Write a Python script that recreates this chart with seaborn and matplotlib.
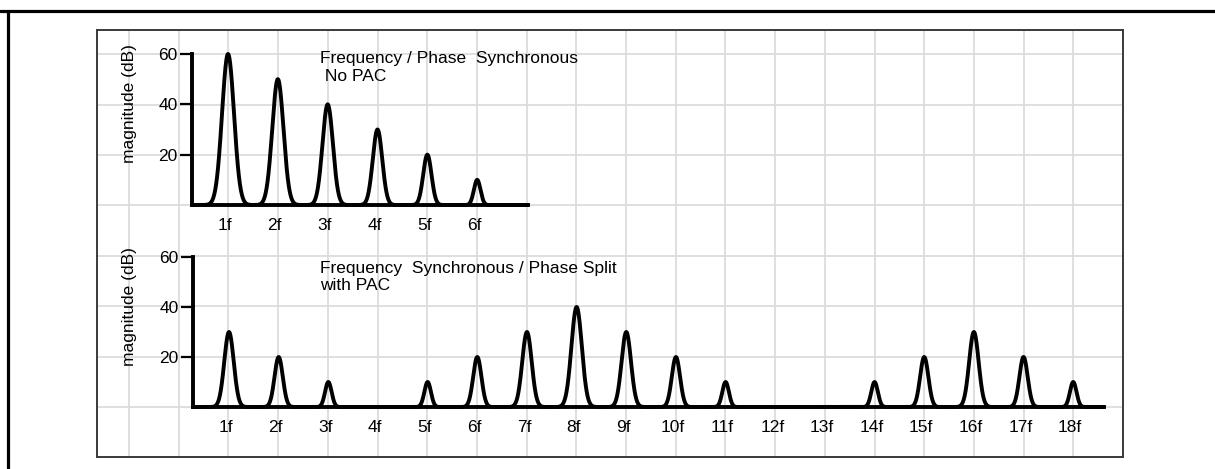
import numpy as np
import pandas as pd
import matplotlib
matplotlib.use('Agg')
import matplotlib.pyplot as plt
import matplotlib.transforms as mtransforms
from matplotlib.lines import Line2D
import seaborn as sns

# Harmonic peak magnitudes (dB)
top_harmonics = [1, 2, 3, 4, 5, 6]
top_db = [60, 50, 40, 30, 20, 10]
top_labels = ['1f', '2f', '3f', '4f', '5f', '6f']

bottom_harmonics = list(range(1, 19))
bottom_db = [30, 20, 10, 0, 10, 20, 30, 40, 30, 20, 10, 0, 0, 10, 20, 30, 20, 10]
bottom_labels = [f'{h}f' for h in bottom_harmonics]

y_ticks = [20, 40, 60]
top_title = 'Frequency / Phase  Synchronous\n No PAC'
bottom_title = 'Frequency  Synchronous / Phase Split\nwith PAC'

sns.set_theme(style='white')
plt.rcParams['font.family'] = ['Liberation Sans', 'DejaVu Sans']
FS = 12.5

W, H = 1215, 469
fig = plt.figure(figsize=(W / 100, H / 100), dpi=100)


def rect(left, top, right, bottom):
    # pixel box -> figure fraction
    return [left / W, (H - bottom) / H, (right - left) / W, (bottom - top) / H]


# outer frame (only top and left edges are visible)
fig.add_artist(Line2D([0, 1], [1 - 11 / H] * 2, transform=fig.transFigure, color='black', lw=2.3))
fig.add_artist(Line2D([8 / W] * 2, [0, 1 - 11 / H], transform=fig.transFigure, color='black', lw=2.3))

# background grid panel
bg = fig.add_axes(rect(97, 30, 1123, 457), zorder=0)
bg.set_xlim(-1.646, 19.0)
bg.set_ylim(-19.8, 149.6)
bg.set_xticks(np.arange(-1, 19))
bg.set_yticks(np.arange(0, 141, 20))
bg.grid(True, color='#dcdcdc', lw=1.3)
bg.tick_params(length=0, labelleft=False, labelbottom=False)
for s in bg.spines.values():
    s.set_color('#3a3a3a')
    s.set_linewidth(1.4)


def spectrum(harmonics, mags, xlim):
    x = np.linspace(xlim[0], xlim[1], 4000)
    y = np.zeros_like(x)
    for h, m in zip(harmonics, mags):
        if m <= 0:
            continue
        sig = 0.066 * (m / 10) ** (1 / 3)
        y += m * np.exp(-0.5 * ((x - h) / sig) ** 2)
    return pd.DataFrame({'x': x, 'y': y})


def panel(box, xlim, harmonics, mags, labels, title, title_xy, ylabel_y):
    ax = fig.add_axes(rect(*box), zorder=2)
    ax.patch.set_alpha(0)
    df = spectrum(harmonics, mags, xlim)
    sns.lineplot(data=df, x='x', y='y', ax=ax, color='black', lw=2.8, clip_on=False)
    ax.set_xlim(*xlim)
    ax.set_ylim(0, 60)
    ax.set_xticks(harmonics, labels)
    ax.set_yticks(y_ticks)
    ax.tick_params(axis='x', length=0, pad=9.5, labelsize=FS, colors='black')
    ax.tick_params(axis='y', direction='out', length=8.5, width=1.6, pad=2,
                   labelsize=FS, colors='black', left=True)
    shift = mtransforms.ScaledTranslation(-3 / 100, 0, fig.dpi_scale_trans)
    for lab in ax.get_xticklabels():
        lab.set_transform(lab.get_transform() + shift)
    sns.despine(ax=ax)
    for s in ('left', 'bottom'):
        ax.spines[s].set_linewidth(2.8)
        ax.spines[s].set_color('black')
        ax.spines[s].set_capstyle('projecting')
    ax.set_xlabel('')
    ax.set_ylabel('magnitude (dB)', fontsize=FS, color='black')
    axw = box[2] - box[0]
    ax.yaxis.set_label_coords((137 - box[0]) / axw, ylabel_y)
    ax.text(title_xy[0], title_xy[1], title, transform=ax.transAxes, ha='left', va='top',
            fontsize=FS, linespacing=1.22, color='black')
    return ax


panel((192, 54, 528, 205), (0.277, 7.02), top_harmonics, top_db, top_labels,
      top_title, (0.381, 1.018), 0.67)
panel((193, 257, 1104, 407), (0.275, 18.62), bottom_harmonics, bottom_db, bottom_labels,
      bottom_title, (0.139, 0.975), 0.667)

fig.savefig('out.png', dpi=100, facecolor='white')
